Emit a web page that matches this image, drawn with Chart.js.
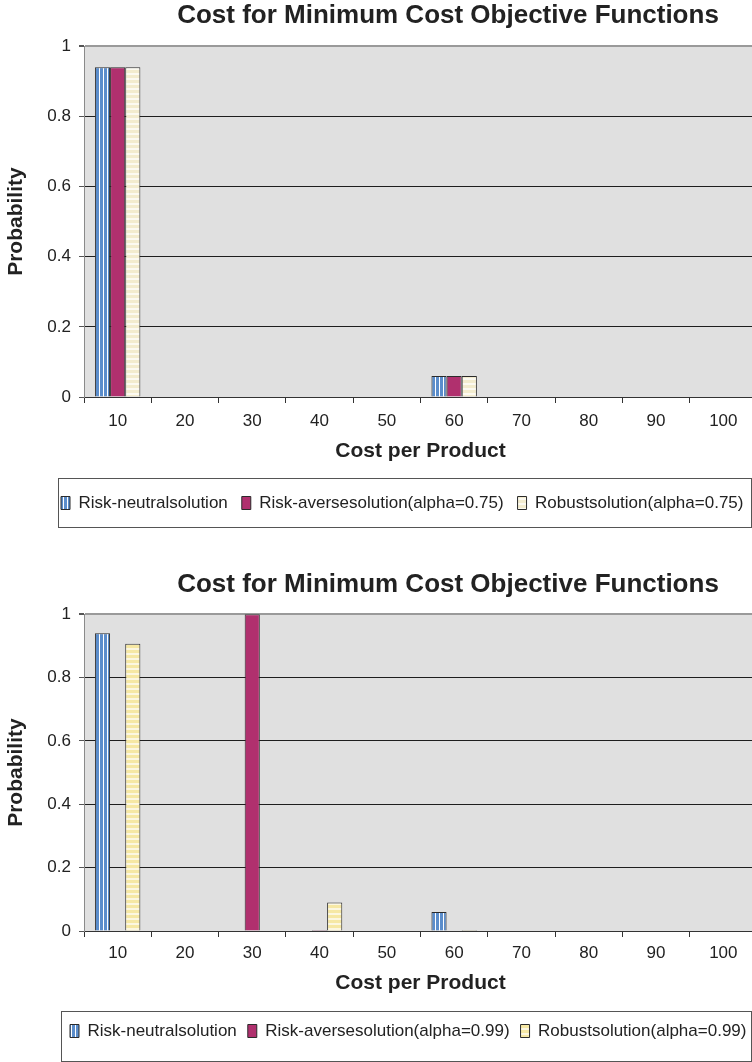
<!DOCTYPE html>
<html>
<head>
<meta charset="utf-8">
<script src="https://cdn.jsdelivr.net/npm/chart.js@4.4.1/dist/chart.umd.min.js"></script>
<style>
  html, body { margin: 0; padding: 0; background: #fff; }
  .panel { position: absolute; left: 0; width: 752px; overflow: hidden; }
  #panel75 { top: 0; height: 530px; }
  #panel99 { top: 560px; height: 502px; }
  canvas { display: block; }
</style>
</head>
<body>
<div class="panel" id="panel75"><canvas id="chart75" width="896" height="530"></canvas></div>
<div class="panel" id="panel99"><canvas id="chart99" width="896" height="502"></canvas></div>
<script>
// Probability of each cost level per solution approach

const costs = ['10', '20', '30', '40', '50', '60', '70', '80', '90', '100'];

// alpha = 0.75
const neutral75 = [0.94, 0, 0, 0, 0, 0.06, 0, 0, 0, 0];
const averse75 = [0.94, 0, 0, 0, 0, 0.06, 0, 0, 0, 0];
const robust75 = [0.94, 0, 0, 0, 0, 0.06, 0, 0, 0, 0];

// alpha = 0.99
const neutral99 = [0.94, 0, 0, 0, 0, 0.06, 0, 0, 0, 0];
const averse99 = [0, 0, 1, 0.003, 0, 0, 0, 0, 0, 0];
const robust99 = [0.907, 0, 0, 0.09, 0, 0.003, 0, 0, 0, 0];

const chartTitle = 'Cost for Minimum Cost Objective Functions';

Chart.defaults.font.family = "'Liberation Sans', Arial, sans-serif";
Chart.defaults.color = '#222';
Chart.defaults.animation = false;

// striped fills like the old spreadsheet patterns
function stripes(ctx, size, vertical, colorA, colorB, widthA) {
  const c = document.createElement('canvas');
  c.width = vertical ? size : 1;
  c.height = vertical ? 1 : size;
  const g = c.getContext('2d');
  g.fillStyle = colorB;
  g.fillRect(0, 0, c.width, c.height);
  g.fillStyle = colorA;
  if (vertical) g.fillRect(0, 0, widthA, 1);
  else g.fillRect(0, 0, 1, widthA);
  return ctx.createPattern(c, 'repeat');
}

// grey plot background
const plotBackground = {
  id: 'plotBackground',
  beforeDraw(chart) {
    const { ctx, chartArea } = chart;
    ctx.save();
    ctx.fillStyle = '#e0e0e0';
    ctx.fillRect(chartArea.left, chartArea.top, chartArea.right - chartArea.left, chartArea.bottom - chartArea.top);
    ctx.restore();
  }
};

// boxed legend, fixed height
const legendFrame = {
  id: 'legendFrame',
  afterInit(chart, args, opts) {
    const legend = chart.legend;
    const fit = legend.fit;
    legend.fit = function () {
      fit.call(this);
      this.height = opts.height;
    };
  },
  afterLayout(chart, args, opts) {
    const legend = chart.legend;
    const pad = legend.options.labels.padding;
    chart.$frame = { top: legend.top, bottom: legend.bottom };
    legend.left = opts.itemsLeft - pad;
    legend.top = legend.top + opts.textY - pad - 8.5;
  },
  afterDraw(chart, args, opts) {
    const { ctx } = chart;
    const f = chart.$frame;
    ctx.save();
    ctx.strokeStyle = '#555';
    ctx.lineWidth = 1;
    ctx.strokeRect(opts.frameLeft + 0.5, f.top + 0.5, 751 - opts.frameLeft, f.bottom - f.top - 1);
    ctx.restore();
  }
};

function makeChart(id, series, lay) {
  const ctx = document.getElementById(id).getContext('2d');
  const fills = [
    stripes(ctx, 4, true, '#5b8dcb', '#ffffff', 3),
    '#b0306e',
    stripes(ctx, 5, false, lay.creamA, lay.creamB, 3)
  ];
  const datasets = series.map((s, i) => ({
    label: s.label,
    data: s.data,
    backgroundColor: fills[i],
    borderColor: '#2b2b2b',
    borderWidth: 1,
    categoryPercentage: 0.675,
    barPercentage: 1,
    yAxisID: 'y'
  }));

  return new Chart(ctx, {
    type: 'bar',
    data: { labels: costs, datasets: datasets },
    options: {
      responsive: false,
      layout: { padding: { bottom: lay.bottomPad } },
      plugins: {
        title: {
          display: true,
          text: chartTitle,
          color: '#222',
          font: { size: 26, weight: 'bold' },
          padding: lay.titlePad
        },
        legend: {
          position: 'bottom',
          align: 'start',
          labels: { boxWidth: 9, boxHeight: 13, padding: lay.legendPad, color: '#222', font: { size: 17 } }
        },
        tooltip: { enabled: false },
        legendFrame: lay.frame
      },
      scales: {
        x: {
          grid: { display: true, drawOnChartArea: false, offset: true, tickLength: 6, color: '#333' },
          border: { color: '#333' },
          ticks: { padding: lay.xTickPad, color: '#222', font: { size: 17 }, autoSkip: false, maxRotation: 0 },
          title: {
            display: true,
            text: 'Cost per Product',
            color: '#222',
            font: { size: 21, weight: 'bold' },
            padding: { top: 0, bottom: lay.xTitlePad }
          },
          afterFit(s) { s.height = lay.xHeight; }
        },
        y: {
          min: 0,
          max: 1,
          ticks: {
            stepSize: 0.2,
            padding: 8,
            color: '#222',
            font: { size: 17 },
            callback: v => String(Math.round(v * 10) / 10)
          },
          grid: {
            color: c => (c.tick && c.tick.value === 1 ? '#9a9a9a' : '#1e1e1e'),
            lineWidth: c => (c.tick && c.tick.value === 1 ? 2 : 1),
            tickLength: 5,
            tickColor: '#555'
          },
          border: { color: '#8a8a8a' },
          title: {
            display: true,
            text: 'Probability',
            color: '#222',
            font: { size: 21, weight: 'bold' },
            padding: { top: 4, bottom: 0 }
          },
          afterFit(s) { s.width = 84; }
        },
        // empty right side, the chart runs past the page edge
        yRight: {
          type: 'linear',
          position: 'right',
          grid: { display: false, drawTicks: false },
          border: { display: false },
          ticks: { display: false },
          afterFit(s) { s.width = 896 - 757; }
        }
      }
    },
    plugins: [plotBackground, legendFrame]
  });
}

makeChart('chart75', [
  { label: 'Risk-neutralsolution', data: neutral75 },
  { label: 'Risk-aversesolution(alpha=0.75)', data: averse75 },
  { label: 'Robustsolution(alpha=0.75)', data: robust75 }
], {
  creamA: '#f3ecce', creamB: '#fcfaf1',
  bottomPad: 2,
  titlePad: { top: 0, bottom: 15 },
  legendPad: 14,
  xTickPad: 8,
  xTitlePad: 14,
  xHeight: 81,
  frame: { height: 50, itemsLeft: 61, textY: 25, frameLeft: 58 }
});

makeChart('chart99', [
  { label: 'Risk-neutralsolution', data: neutral99 },
  { label: 'Risk-aversesolution(alpha=0.99)', data: averse99 },
  { label: 'Robustsolution(alpha=0.99)', data: robust99 }
], {
  creamA: '#f6e8a4', creamB: '#fcf7e0',
  bottomPad: 0,
  titlePad: { top: 9, bottom: 14 },
  legendPad: 11,
  xTickPad: 6,
  xTitlePad: 15,
  xHeight: 80,
  frame: { height: 51, itemsLeft: 70, textY: 20, frameLeft: 61 }
});
</script>
</body>
</html>
